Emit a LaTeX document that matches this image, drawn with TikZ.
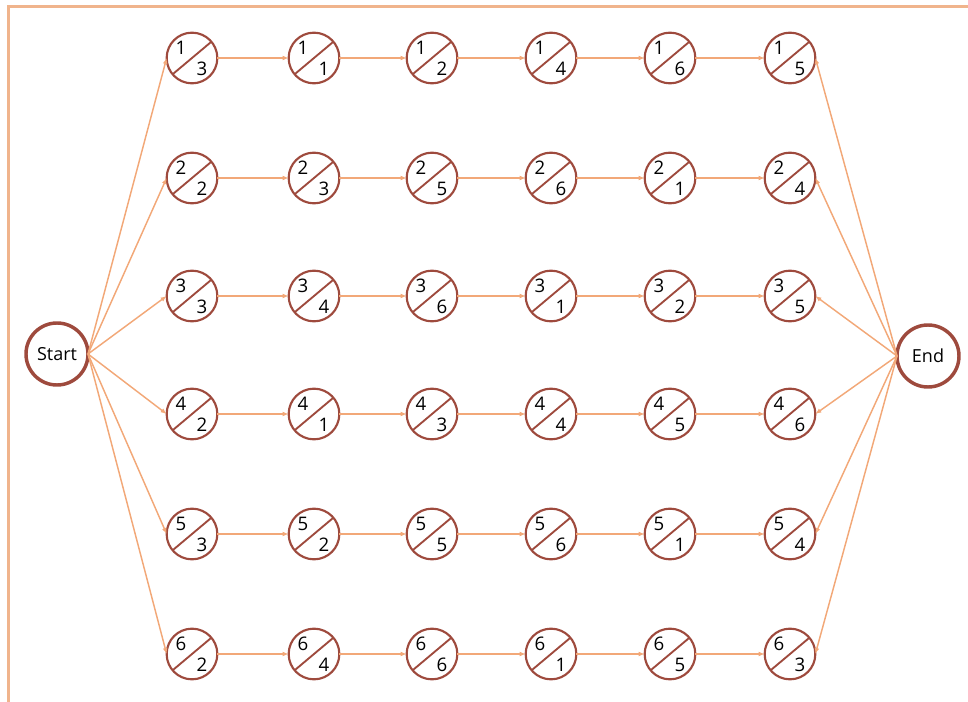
\documentclass[tikz,border=0pt]{standalone}
\usepackage{fontspec}
\setmainfont{Open Sans}
\usetikzlibrary{arrows.meta,calc}
\definecolor{ring}{HTML}{9E4A3D}
\definecolor{arr}{HTML}{F2A878}
\definecolor{framec}{HTML}{F0B48C}
\begin{document}
\begin{tikzpicture}[x=0.75pt,y=-0.75pt,
  cnode/.style={circle,draw=ring,line width=1.6pt,minimum size=38pt,inner sep=0pt,outer sep=0pt},
  bignode/.style={circle,draw=ring,line width=2.6pt,minimum size=46.5pt,inner sep=0pt,outer sep=0pt,font=\fontsize{13.5}{16}\selectfont},
  diag/.style={draw=ring,line width=1.4pt},
  num/.style={inner sep=0pt,font=\fontsize{14}{16}\selectfont},
  link/.style={draw=arr,line width=1.1pt,-{Latex[length=4.5pt,width=3.6pt]}},
  frameline/.style={draw=framec,line width=1.6pt}]
\useasboundingbox (0,0) rectangle (968,702);
\draw[frameline] (8.5,702) -- (8.5,6.5) -- (968,6.5);

\node[bignode] (start) at (57,354) {Start};
\node[bignode] (end) at (928,356) {End};

\foreach \r/\y/\bl in {1/58/{3,1,2,4,6,5},2/178/{2,3,5,6,1,4},3/296/{3,4,6,1,2,5},4/414/{2,1,3,4,5,6},5/534/{3,2,5,6,1,4},6/654/{2,4,6,1,5,3}}{
  \foreach \b [count=\c] in \bl {
    \pgfmathsetmacro{\xx}{{192,314,432,551,670,790}[\c-1]}
    \node[cnode] (n\r\c) at (\xx,\y) {};
    \draw[diag] (n\r\c.220) -- (n\r\c.40);
    \node[num] (n\r\c t) at ($(n\r\c)+(-11,-10)$) {\r};
    \node[num] (n\r\c b) at ($(n\r\c)+(10,11)$) {\b};
  }
}

\foreach \r in {1,...,6}{
  \foreach \c in {1,...,5}{
    \pgfmathtruncatemacro{\d}{\c+1}
    \draw[link] (n\r\c.east) -- (n\r\d.west);
  }
  \draw[link] (start.east) -- (n\r1.west);
  \draw[link] (end.west) -- (n\r6.east);
}
\end{tikzpicture}
\end{document}
